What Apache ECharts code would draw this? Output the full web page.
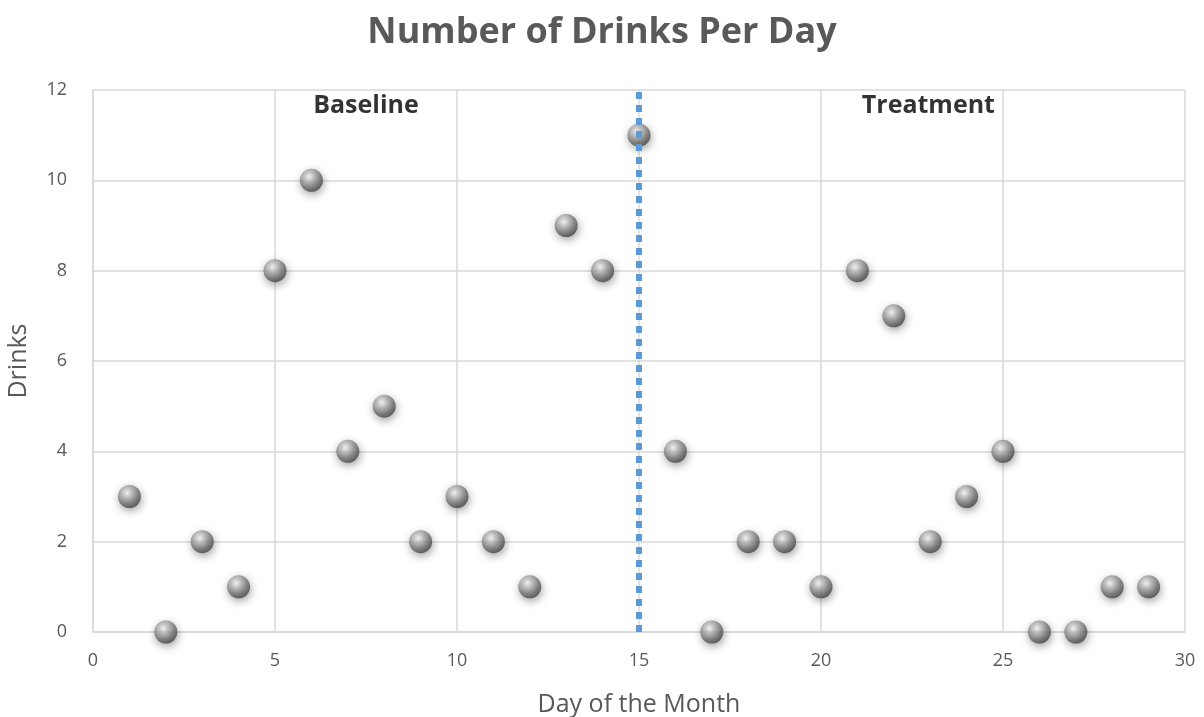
<!DOCTYPE html>
<html>
<head>
<meta charset="utf-8">
<script src="https://cdn.jsdelivr.net/npm/echarts@6/dist/echarts.min.js"></script>
<style>
  html, body { margin: 0; padding: 0; background: #fff; }
  #chart { width: 1204px; height: 717px; }
</style>
</head>
<body>
<div id="chart"></div>
<script>
// day of month -> drinks
const days = [1, 2, 3, 4, 5, 6, 7, 8, 9, 10, 11, 12, 13, 14, 15, 16, 17, 18, 19, 20, 21, 22, 23, 24, 25, 26, 27, 28, 29]
const drinks = [3, 0, 2, 1, 8, 10, 4, 5, 2, 3, 2, 1, 9, 8, 11, 4, 0, 2, 2, 1, 8, 7, 2, 3, 4, 0, 0, 1, 1]
const phaseChange = 15
const phaseLabels = [['Baseline', 7.5, 11.65], ['Treatment', 22.95, 11.65]]

const font = '"Open Sans", "Noto Sans", sans-serif'
const grey = '#595959'

const chart = echarts.init(document.getElementById('chart'))

const sphere = new echarts.graphic.RadialGradient(0.4, 0.35, 0.7, [
  {offset: 0, color: '#ffffff'},
  {offset: 0.25, color: '#c8c8c8'},
  {offset: 0.7, color: '#6e6e6e'},
  {offset: 1, color: '#3a3a3a'}
])

chart.setOption({
  animation: false,
  title: {
    text: 'Number of Drinks Per Day',
    left: 'center',
    top: 10,
    textStyle: {fontFamily: font, fontSize: 36, fontWeight: 'bold', color: grey}
  },
  grid: {left: 93, right: 19, top: 90, bottom: 85, containLabel: false, outerBoundsMode: 'none'},
  xAxis: {
    type: 'value',
    min: 0, max: 30, interval: 5,
    name: 'Day of the Month',
    nameLocation: 'middle',
    nameGap: 60,
    nameTextStyle: {fontFamily: font, fontSize: 25, color: grey},
    axisLine: {lineStyle: {color: '#d9d9d9', width: 1.5}},
    axisTick: {show: false},
    axisLabel: {fontFamily: font, fontSize: 18, color: grey, margin: 20},
    splitLine: {lineStyle: {color: '#d9d9d9', width: 1.5}}
  },
  yAxis: {
    type: 'value',
    min: 0, max: 12, interval: 2,
    name: 'Drinks',
    nameLocation: 'middle',
    nameGap: 62,
    nameTextStyle: {fontFamily: font, fontSize: 25, color: grey},
    axisLine: {show: true, lineStyle: {color: '#d9d9d9', width: 1.5}},
    axisTick: {show: false},
    axisLabel: {fontFamily: font, fontSize: 18, color: grey, margin: 26},
    splitLine: {lineStyle: {color: '#d9d9d9', width: 1.5}}
  },
  series: [
    {
      type: 'scatter',
      z: 2,
      data: days.map((d, i) => [d, drinks[i]]),
      symbolSize: 23,
      itemStyle: {
        color: sphere,
        shadowColor: 'rgba(0,0,0,0.45)',
        shadowBlur: 8,
        shadowOffsetX: 1,
        shadowOffsetY: 3
      }
    },
    {
      type: 'line',
      z: 5,
      data: [],
      markLine: {
        silent: true,
        symbol: 'none',
        label: {show: false},
        lineStyle: {color: '#5b9bd5', width: 6, type: [7, 6]},
        data: [{xAxis: phaseChange}]
      }
    },
    {
      type: 'scatter',
      z: 6,
      symbolSize: 0,
      data: phaseLabels.map(p => ({name: p[0], value: [p[1], p[2]]})),
      label: {
        show: true,
        position: 'inside',
        formatter: '{b}',
        fontFamily: font,
        fontSize: 25,
        fontWeight: 'bold',
        color: '#000'
      }
    }
  ]
})
</script>
</body>
</html>
